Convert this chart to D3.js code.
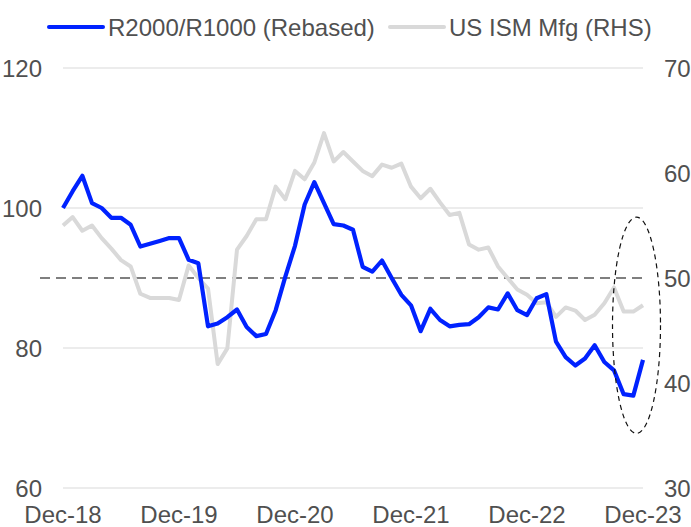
<!DOCTYPE html>
<html>
<head>
<meta charset="utf-8">
<script src="https://cdn.jsdelivr.net/npm/d3@7"></script>
<style>
  html, body { margin: 0; padding: 0; background: #fff; }
  text { font-family: "Liberation Sans", Arial, sans-serif; fill: #505050; }
</style>
</head>
<body>
<div id="chart"></div>
<script>
const WIDTH = 691;
const HEIGHT = 527;

// monthly, Dec-18 .. Dec-23
const months = d3.range(61).map((i) => d3.timeFormat('%b-%y')(new Date(2018, 11 + i, 1)));

const r2000 = [
  100.0, 102.4, 104.6, 100.7, 100.0, 98.6, 98.6, 97.6, 94.5, 94.9, 95.3, 95.7,
  95.7, 92.6, 92.1, 83.1, 83.5, 84.4, 85.5, 83.0, 81.7, 82.0, 85.4, 90.2,
  94.6, 100.5, 103.7, 100.7, 97.7, 97.5, 96.9, 91.6, 90.9, 92.5, 90.0, 87.6,
  86.1, 82.4, 85.6, 84.0, 83.1, 83.3, 83.4, 84.4, 85.8, 85.5, 87.8, 85.4,
  84.7, 87.1, 87.7, 80.9, 78.7, 77.5, 78.5, 80.4, 78.0, 76.8, 73.4, 73.2,
  78.3
];

const ism = [
  55.0, 55.8, 54.5, 55.0, 53.8, 52.8, 51.7, 51.1, 48.5, 48.1, 48.1, 48.1,
  47.9, 51.2, 50.0, 49.0, 41.8, 43.3, 52.7, 54.0, 55.6, 55.6, 58.7, 57.5,
  60.2, 59.4, 61.0, 63.8, 61.1, 62.0, 61.1, 60.2, 59.7, 60.8, 60.5, 60.9,
  58.7, 57.6, 58.5, 57.2, 56.0, 56.2, 53.2, 52.7, 52.9, 51.1, 50.0, 48.9,
  48.4, 47.6, 47.7, 46.3, 47.2, 46.9, 46.0, 46.5, 47.6, 49.1, 46.8, 46.8,
  47.4
];

const leftTicks = [60, 80, 100, 120];
const rightTicks = [30, 40, 50, 60, 70];
const xTickLabels = ['Dec-18', 'Dec-19', 'Dec-20', 'Dec-21', 'Dec-22', 'Dec-23'];
const legendLabels = ['R2000/R1000 (Rebased)', 'US ISM Mfg (RHS)'];
const ismThreshold = 50;

const BLUE = '#0022ff';
const GREY = '#d9d9d9';

const svg = d3.select('#chart').append('svg')
  .attr('width', WIDTH)
  .attr('height', HEIGHT);

const x = d3.scalePoint().domain(months).range([63, 643]);
const yL = d3.scaleLinear().domain([60, 120]).range([488, 68]);
const yR = d3.scaleLinear().domain([30, 70]).range([488, 68]);

// gridlines (left axis)
svg.append('g')
  .selectAll('line')
  .data(leftTicks)
  .enter().append('line')
  .attr('x1', 63).attr('x2', 643)
  .attr('y1', (d) => yL(d)).attr('y2', (d) => yL(d))
  .attr('stroke', '#e6e6e6')
  .attr('stroke-width', 1.3);

// left axis labels
const leftAxis = svg.append('g')
  .attr('transform', 'translate(42,0)')
  .call(d3.axisLeft(yL).tickValues(leftTicks).tickSize(0).tickPadding(0));
leftAxis.select('.domain').remove();
leftAxis.selectAll('text')
  .attr('font-size', 24)
  .attr('font-family', '"Liberation Sans", Arial, sans-serif')
  .attr('fill', '#505050')
  .attr('dy', '0.36em');

// right axis labels
const rightAxis = svg.append('g')
  .attr('transform', 'translate(664,0)')
  .call(d3.axisRight(yR).tickValues(rightTicks).tickSize(0).tickPadding(0));
rightAxis.select('.domain').remove();
rightAxis.selectAll('text')
  .attr('font-size', 24)
  .attr('font-family', '"Liberation Sans", Arial, sans-serif')
  .attr('fill', '#505050')
  .attr('dy', '0.36em');

// x axis labels
svg.append('g')
  .selectAll('text')
  .data(xTickLabels)
  .enter().append('text')
  .attr('x', (d) => x(d))
  .attr('y', 523)
  .attr('text-anchor', 'middle')
  .attr('font-size', 24)
  .text((d) => d);

// 50 threshold on ISM
svg.append('line')
  .attr('x1', 40).attr('x2', 648)
  .attr('y1', yR(ismThreshold)).attr('y2', yR(ismThreshold))
  .attr('stroke', '#555')
  .attr('stroke-width', 1.4)
  .attr('stroke-dasharray', '10,6');

// ISM line (RHS)
svg.append('path')
  .datum(ism)
  .attr('fill', 'none')
  .attr('stroke', GREY)
  .attr('stroke-width', 4)
  .attr('stroke-linejoin', 'round')
  .attr('d', d3.line().x((d, i) => x(months[i])).y((d) => yR(d)));

// R2000/R1000 line
svg.append('path')
  .datum(r2000)
  .attr('fill', 'none')
  .attr('stroke', BLUE)
  .attr('stroke-width', 4.2)
  .attr('stroke-linejoin', 'round')
  .attr('d', d3.line().x((d, i) => x(months[i])).y((d) => yL(d)));

// highlight ellipse around the last few months
const eLeft = x(months[57]) - 1.5;
const eRight = x(months[60]) + 17.5;
const eTop = yR(55.8);
const eBottom = yR(35.2);
svg.append('ellipse')
  .attr('cx', (eLeft + eRight) / 2)
  .attr('cy', (eTop + eBottom) / 2)
  .attr('rx', (eRight - eLeft) / 2)
  .attr('ry', (eBottom - eTop) / 2)
  .attr('fill', 'none')
  .attr('stroke', '#111')
  .attr('stroke-width', 1.2)
  .attr('stroke-dasharray', '5,4');

// legend
const legend = svg.append('g');
const legendItems = [
  { label: legendLabels[0], color: BLUE, x: 49 },
  { label: legendLabels[1], color: GREY, x: 390 }
];
legendItems.forEach((it) => {
  legend.append('line')
    .attr('x1', it.x).attr('x2', it.x + 54)
    .attr('y1', 27).attr('y2', 27)
    .attr('stroke', it.color)
    .attr('stroke-width', 4)
    .attr('stroke-linecap', 'round');
  legend.append('text')
    .attr('x', it.x + 59)
    .attr('y', 36)
    .attr('font-size', 24)
    .text(it.label);
});
</script>
</body>
</html>
